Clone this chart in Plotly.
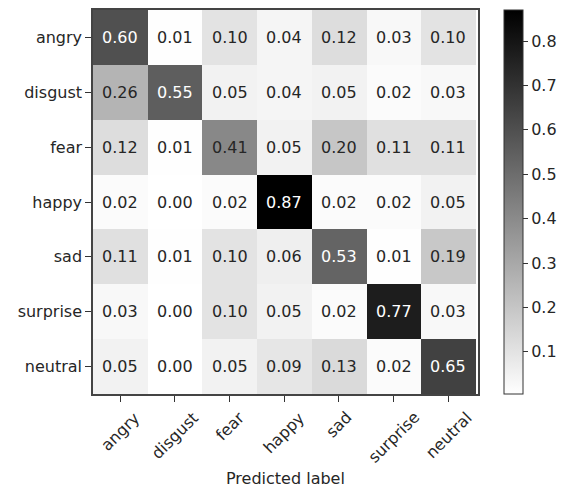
import plotly.graph_objects as go

labels = ["angry", "disgust", "fear", "happy", "sad", "surprise", "neutral"]
matrix = [
    [0.60, 0.01, 0.10, 0.04, 0.12, 0.03, 0.10],
    [0.26, 0.55, 0.05, 0.04, 0.05, 0.02, 0.03],
    [0.12, 0.01, 0.41, 0.05, 0.20, 0.11, 0.11],
    [0.02, 0.00, 0.02, 0.87, 0.02, 0.02, 0.05],
    [0.11, 0.01, 0.10, 0.06, 0.53, 0.01, 0.19],
    [0.03, 0.00, 0.10, 0.05, 0.02, 0.77, 0.03],
    [0.05, 0.00, 0.05, 0.09, 0.13, 0.02, 0.65],
]
cbar_ticks = [0.1, 0.2, 0.3, 0.4, 0.5, 0.6, 0.7, 0.8]
zmin, zmax = 0.005, 0.87

colorscale = [[0.0, "#ffffff"], [1.0, "#000000"]]

FONT = "DejaVu Sans"
TXT = "#262626"

fig = go.Figure(go.Heatmap(
    z=matrix, x=labels, y=labels,
    colorscale=colorscale, zmin=zmin, zmax=zmax,
    showscale=True,
    colorbar=dict(
        x=1.0675, xanchor="left", xpad=0, y=0.5, yanchor="middle", ypad=0,
        len=1, lenmode="fraction", thickness=19, thicknessmode="pixels",
        outlinewidth=1, outlinecolor="#333",
        tickvals=cbar_ticks, ticktext=[f"{t:.1f}" for t in cbar_ticks],
        ticks="outside", ticklen=5, tickcolor="#333",
        tickfont=dict(family=FONT, size=16, color=TXT),
    ),
    hoverinfo="skip",
))

thresh = max(max(r) for r in matrix) / 2
annotations = []
for i, row in enumerate(matrix):
    for j, v in enumerate(row):
        annotations.append(dict(
            x=labels[j], y=labels[i], text=f"{v:.2f}", showarrow=False,
            font=dict(family=FONT, size=16, color="white" if v > thresh else TXT),
        ))
# rotated x tick labels centred on their ticks (matplotlib style)
for lab in labels:
    annotations.append(dict(
        x=lab, xref="x", y=-0.03, yref="paper", text=lab, showarrow=False,
        textangle=-45, xanchor="center", yanchor="top",
        font=dict(family=FONT, size=16, color=TXT),
    ))
annotations.append(dict(
    x=0.5, y=-0.219, xref="paper", yref="paper", text="Predicted label",
    showarrow=False, yanchor="middle",
    font=dict(family=FONT, size=16, color=TXT),
))

fig.update_layout(
    width=561, height=490,
    margin=dict(l=93, r=83, t=10, b=96, autoexpand=False),
    paper_bgcolor="white", plot_bgcolor="white",
    annotations=annotations,
    font=dict(family=FONT, size=16, color=TXT),
)
fig.update_xaxes(
    showticklabels=False, ticks="outside", ticklen=6, tickcolor="#333",
    showline=True, linecolor="#444", linewidth=1.5, mirror=True,
    showgrid=False, zeroline=False,
)
fig.update_yaxes(
    autorange="reversed", ticks="outside", ticklen=6, tickcolor="#333",
    showline=True, linecolor="#444", linewidth=1.5, mirror=True,
    showgrid=False, zeroline=False,
    tickfont=dict(family=FONT, size=16, color=TXT),
)

fig.write_html("out.html")
